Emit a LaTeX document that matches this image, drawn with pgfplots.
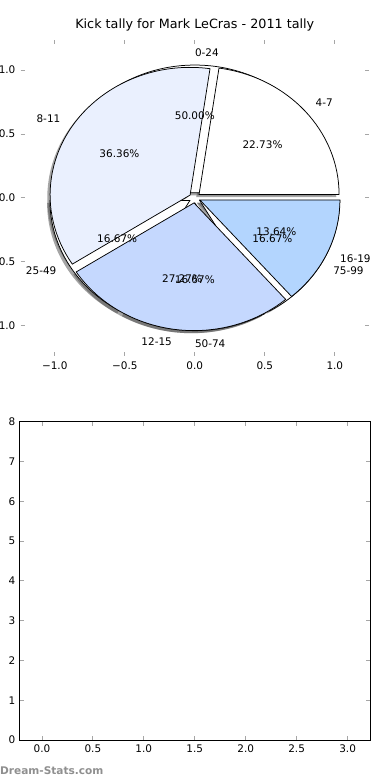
\documentclass[border=0pt]{standalone}
\usepackage{fontspec}
\setmainfont{DejaVu Sans}
\usepackage{pgfplots}
\pgfplotsset{compat=1.18}

\definecolor{cA}{HTML}{FFFFFF}
\definecolor{cB}{HTML}{EAF0FE}
\definecolor{cC}{HTML}{C5D8FE}
\definecolor{cD}{HTML}{B3D5FE}
\definecolor{wm}{HTML}{8F8F8F}

\newcommand\lblfont{\fontsize{10.5}{12}\selectfont}
\def\xr{140.0bp}
\def\yr{127.7bp}
\def\expl{0.04}

% one wedge: start, end, explode, colour, mode (0 shadow / 1 wedge)
\newcommand\pieWedge[5]{%
  \pgfmathsetmacro\pwM{(#1+#2)/2}%
  \pgfmathsetmacro\pcx{#3*cos(\pwM)+(#5-1)*0.02}%
  \pgfmathsetmacro\pcy{#3*sin(\pwM)+(#5-1)*0.02}%
  \pgfmathsetmacro\psx{\pcx+cos(#1)}%
  \pgfmathsetmacro\psy{\pcy+sin(#1)}%
  \ifnum#5=0
    \fill[black!70,opacity=0.5] (axis cs:\pcx,\pcy) -- (axis cs:\psx,\psy)
      arc[start angle=#1,end angle=#2,x radius=\xr,y radius=\yr] -- cycle;
  \else
    \filldraw[fill=#4,draw=black,line width=0.75bp] (axis cs:\pcx,\pcy) -- (axis cs:\psx,\psy)
      arc[start angle=#1,end angle=#2,x radius=\xr,y radius=\yr] -- cycle;
  \fi
}
% #1 list value/colour/label/pct/anchor, #2 total, #3 mode (0 shadow,1 wedge,2 text)
\newcommand\drawPie[3]{%
  \gdef\pcum{0}%
  \foreach \v/\col/\lab/\pct/\anc in #1{%
    \pgfmathsetmacro\pa{360*\pcum/#2}%
    \pgfmathsetmacro\pb{360*(\pcum+\v)/#2}%
    \ifnum#3<2
      \pieWedge{\pa}{\pb}{\expl}{\col}{#3}%
    \else
      \pgfmathsetmacro\pwM{(\pa+\pb)/2}%
      \pgfmathsetmacro\lx{(1.1+\expl)*cos(\pwM)}%
      \pgfmathsetmacro\ly{(1.1+\expl)*sin(\pwM)}%
      \pgfmathsetmacro\tx{(0.6+\expl)*cos(\pwM)}%
      \pgfmathsetmacro\ty{(0.6+\expl)*sin(\pwM)}%
      \node[anchor=\anc,inner sep=0pt,font=\lblfont] at (axis cs:\lx,\ly) {\lab};
      \node[inner sep=0pt,font=\lblfont] at (axis cs:\tx,\ty) {\pct\%};
    \fi
    \pgfmathsetmacro\pnew{\pcum+\v}%
    \xdef\pcum{\pnew}%
  }%
}

\def\pieB{3/white/0-24/50.00/west,1/white/25-49/16.67/east,1/white/50-74/16.67/west,1/white/75-99/16.67/west}
\def\pieA{5/cA/4-7/22.73/west,8/cB/8-11/36.36/east,6/cC/12-15/27.27/east,3/cD/16-19/13.64/west}

\begin{document}
\begin{tikzpicture}
\useasboundingbox (0,-780bp) rectangle (390bp,0);
\clip (0,-780bp) rectangle (390bp,0);

\begin{axis}[
  at={(20.6bp,-355.7bp)}, anchor=south west,
  scale only axis, width=348.4bp, height=315.7bp,
  xmin=-1.244, xmax=1.244, ymin=-1.236, ymax=1.236,
  clip=false,
  axis line style={draw=none},
  xtick={-1,-0.5,0,0.5,1},
  xticklabels={−1.0,−0.5,0.0,0.5,1.0},
  ytick={-1,-0.5,0,0.5,1},
  yticklabels={−1.0,−0.5,0.0,0.5,1.0},
  major tick length=4bp,
  major tick style={gray!70,line width=0.8bp},
  xticklabel style={font=\lblfont,inner sep=0pt,yshift=-5.5bp},
  yticklabel style={font=\lblfont,inner sep=0pt,xshift=-5bp},
  title={Kick tally for Mark LeCras - 2011 tally},
  title style={font=\fontsize{12.8}{14}\selectfont,anchor=base,at={(0.5,1)},yshift=6bp},
]
\pgfplotsextra{%
  \drawPie{\pieB}{6}{0}%
  \drawPie{\pieA}{22}{0}%
  \drawPie{\pieB}{6}{1}%
  \drawPie{\pieA}{22}{1}%
  \drawPie{\pieB}{6}{2}%
  \drawPie{\pieA}{22}{2}%
}
\end{axis}

\begin{axis}[
  at={(19.5bp,-740bp)}, anchor=south west,
  scale only axis, width=350.5bp, height=318.3bp,
  xmin=-0.22, xmax=3.22, ymin=0, ymax=8,
  axis line style={black,line width=0.8bp},
  xtick={0,0.5,1,1.5,2,2.5,3},
  xticklabels={0.0,0.5,1.0,1.5,2.0,2.5,3.0},
  ytick={0,1,2,3,4,5,6,7,8},
  yticklabels={0,1,2,3,4,5,6,7,8},
  major tick length=4bp,
  major tick style={gray!70,line width=0.8bp},
  xticklabel style={font=\lblfont,inner sep=0pt,yshift=-4.5bp},
  yticklabel style={font=\lblfont,inner sep=0pt,xshift=-4bp},
]
\end{axis}

\node[anchor=base west,inner sep=0pt,text=wm,font=\fontsize{10.6}{12}\selectfont\bfseries] at (0bp,-774bp) {Dream-Stats.com};
\end{tikzpicture}
\end{document}
